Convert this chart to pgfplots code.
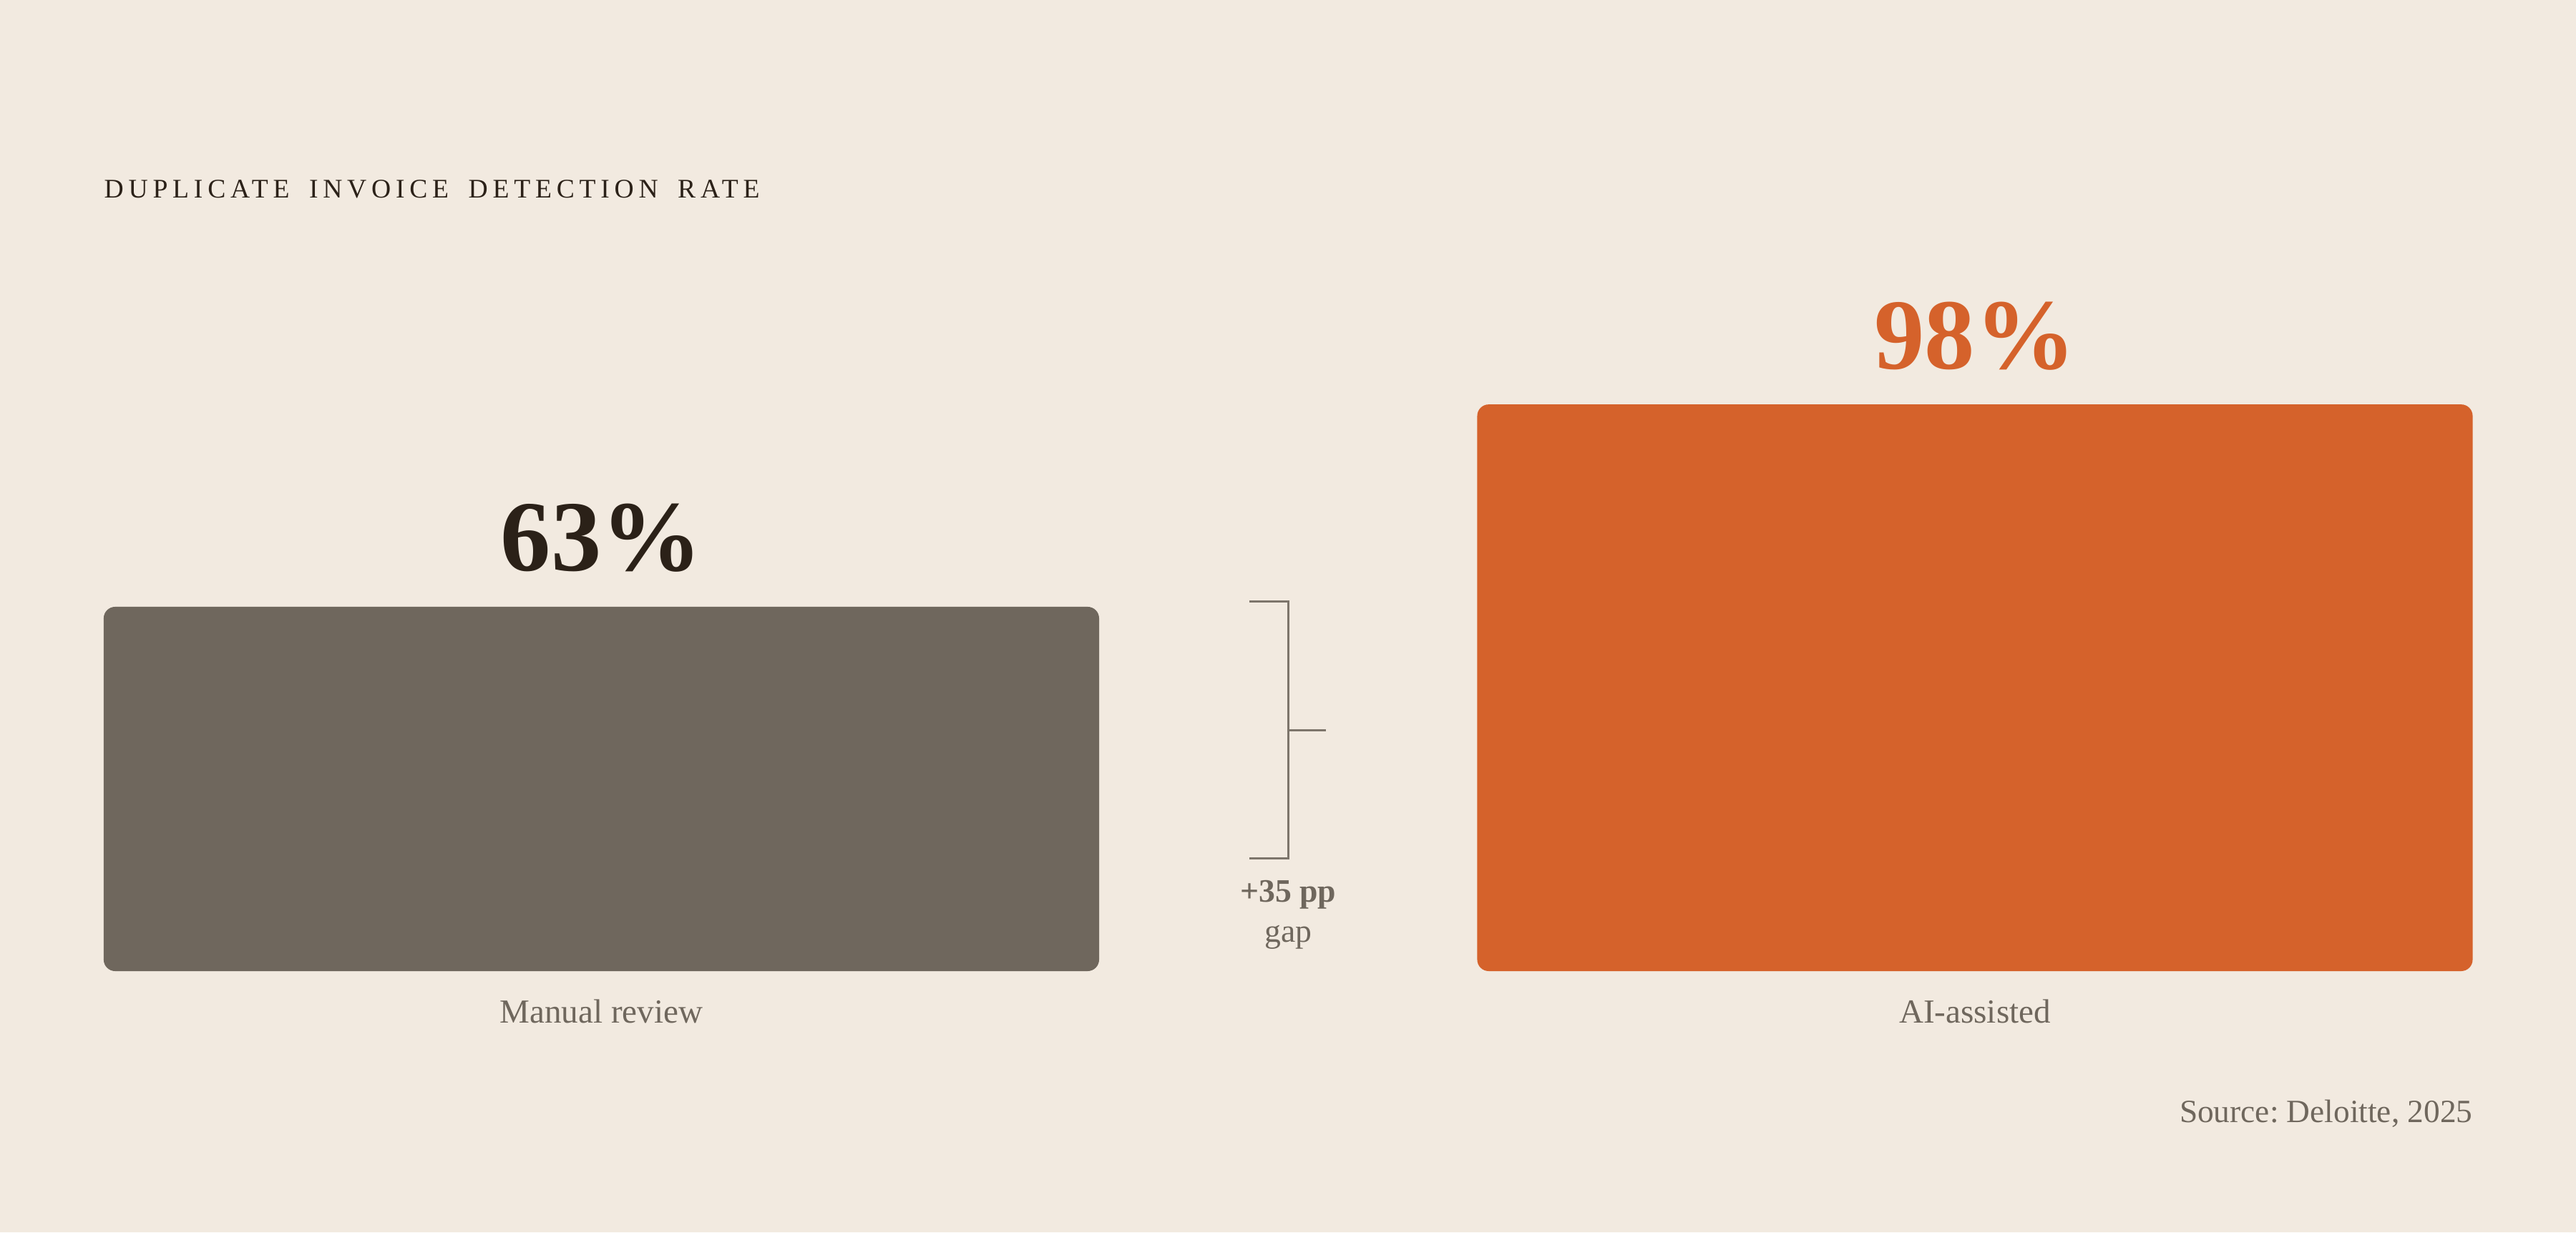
\documentclass[border=0pt]{standalone}
\usepackage{fontspec}
\setmainfont{Liberation Serif}
\usepackage{pgfplots}
\pgfplotsset{compat=1.18}

\definecolor{bg}{HTML}{F2EAE0}
\definecolor{greybar}{HTML}{6F675D}
\definecolor{orangebar}{HTML}{D5622B}
\definecolor{darktext}{HTML}{2B2118}
\definecolor{labelgrey}{HTML}{6F675D}
\definecolor{bracketc}{HTML}{7D756B}

\begin{document}
\frenchspacing
\begin{tikzpicture}
\path[use as bounding box, fill=bg] (-1.45,-3.65) rectangle (34.55,13.57);

% title and source
\node[anchor=base west, inner sep=0pt, text=darktext,
      font=\fontsize{10.7}{13}\selectfont\addfontfeature{LetterSpace=18}]
  at (0,10.80) {DUPLICATE\hspace{0.3em} INVOICE\hspace{0.3em} DETECTION\hspace{0.3em} RATE};
\node[anchor=base east, inner sep=0pt, text=labelgrey,
      font=\fontsize{12.9}{15}\selectfont]
  at (33.11,-2.11) {Source: Deloitte, 2025};

\begin{axis}[
    at={(0,0)}, anchor=south west,
    width=33.11cm, height=8.08cm, scale only axis,
    xmin=-0.3623, xmax=1.3626, ymin=0, ymax=100,
    axis line style={draw=none},
    ytick=\empty,
    xtick={0,1},
    xticklabels={Manual review, AI-assisted},
    major tick length=0pt,
    x tick label style={anchor=base, yshift=-0.72cm, text=labelgrey,
                        font=\fontsize{13.4}{16}\selectfont},
    clip=false,
    /pgf/number format/assume math mode=true,
    every node near coord/.append style={anchor=base, yshift=0.5cm,
        font=\fontsize{40}{48}\selectfont\bfseries},
]
  % bars
  \addplot[ybar, bar width=0.7247, bar shift=0pt, fill=greybar, draw=none,
           rounded corners=0.16cm,
           nodes near coords={\pgfmathprintnumber{\pgfplotspointmeta}\%},
           nodes near coords style={text=darktext}]
    coordinates {(0,63)};
  \addplot[ybar, bar width=0.7247, bar shift=0pt, fill=orangebar, draw=none,
           rounded corners=0.16cm,
           nodes near coords={\pgfmathprintnumber{\pgfplotspointmeta}\%},
           nodes near coords style={text=orangebar}]
    coordinates {(1,98)};

  % gap bracket
  \addplot[bracketc, line width=0.03cm, no marks, sharp plot]
    coordinates {(0.472,63.9) (0.5,63.9) (0.5,19.55) (0.472,19.55)};
  \addplot[bracketc, line width=0.03cm, no marks, sharp plot]
    coordinates {(0.5,41.7) (0.5277,41.7)};

  \node[anchor=base, text=labelgrey, font=\fontsize{13}{15}\selectfont\bfseries]
    at (axis cs:0.5,12.0) {+35 pp};
  \node[anchor=base, text=labelgrey, font=\fontsize{13}{15}\selectfont]
    at (axis cs:0.5,5.07) {gap};
\end{axis}
\end{tikzpicture}
\end{document}
